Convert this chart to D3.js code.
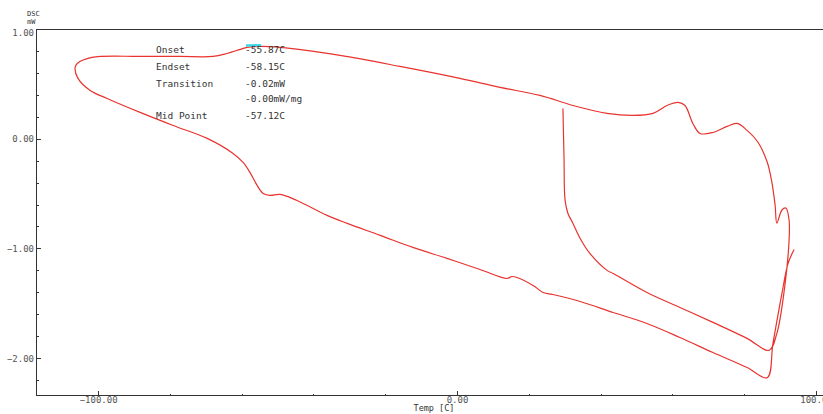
<!DOCTYPE html>
<head>
  <meta charset="utf-8">
  <script src="https://d3js.org/d3.v7.min.js"></script>
  <style>
    body { margin:0; background:#fff; }
    text { font-family: "DejaVu Sans Mono", "Liberation Mono", monospace; fill:#333; }
    .axis path, .axis line { fill:none; stroke:#333; shape-rendering:crispEdges; }
    .axis text { font-size:9px; fill:#555; }
    .ann { font-size:9.5px; }
  </style>
</head>
<body>
  <script>
    // DSC trace, temperature [C] and heat flow [mW], in drawing order
    var temps = [29.5, 29.8, 30.1, 30.9, 32.3, 34.3, 37.0, 41.8, 43.5, 52.9, 62.1, 71.3, 80.8, 86.9,
                 89.1, 91.4, 92.5, 92.5, 91.6, 90.5, 89.1, 88.6, 87.7, 86.4, 83.8, 80.8, 78.0, 75.2,
                 71.3, 67.7, 65.7, 63.5, 61.6, 58.5, 54.6, 49.0, 41.8, 32.3, 23.1, 12.0, 0.8, -15.9,
                 -32.6, -49.3, -54.9, -58.5, -60.4, -64.1, -68.0, -77.2, -88.3, -101.7, -105.8, -106.4,
                 -105.6, -102.2, -97.5, -88.3, -79.1, -69.6, -62.4, -59.6, -57.7, -55.7, -54.0, -52.1,
                 -49.3, -44.6, -36.2, -30.6, -21.4, -12.3, -2.8, 6.4, 13.9, 15.3, 16.7, 21.2, 24.0,
                 26.7, 34.3, 43.5, 52.9, 62.1, 71.3, 80.8, 86.4, 88.0, 90.5, 92.2, 93.9];
    var heatFlow = [0.276, -0.170, -0.562, -0.681, -0.772, -0.909, -1.045, -1.200, -1.228, -1.401,
                    -1.538, -1.674, -1.820, -1.929, -1.774, -1.318, -0.926, -0.741, -0.632, -0.650,
                    -0.769, -0.604, -0.395, -0.212, -0.030, 0.076, 0.139, 0.112, 0.057, 0.048, 0.139,
                    0.303, 0.331, 0.303, 0.231, 0.212, 0.231, 0.303, 0.395, 0.468, 0.550, 0.659, 0.759,
                    0.832, 0.841, 0.832, 0.814, 0.777, 0.750, 0.750, 0.750, 0.741, 0.686, 0.650, 0.550,
                    0.440, 0.367, 0.240, 0.121, 0.003, -0.134, -0.216, -0.307, -0.426, -0.499, -0.517,
                    -0.508, -0.563, -0.699, -0.772, -0.881, -0.991, -1.091, -1.192, -1.274, -1.256,
                    -1.265, -1.338, -1.402, -1.420, -1.484, -1.584, -1.684, -1.812, -1.949, -2.086,
                    -2.178, -1.868, -1.412, -1.138, -1.010];

    // onset marker on the curve
    var markTemps = [-58.8, -54.6];
    var markFlow = [0.850, 0.852];

    var xTickValues = [-100, 0, 100];
    var yTickValues = [1, 0, -1, -2];

    var annLabels = ["Onset", "Endset", "Transition", "", "Mid Point"];
    var annValues = ["-55.87C", "-58.15C", "-0.02mW", "-0.00mW/mg", "-57.12C"];
    var annRows = [50, 67, 84, 99, 116];

    var margin = {top: 29, left: 36},
        width = 787,
        height = 366;

    var svg = d3.select("body").append("svg")
        .attr("width", 823)
        .attr("height", 414);

    var g = svg.append("g")
        .attr("transform", "translate(" + margin.left + "," + margin.top + ")");

    var x = d3.scaleLinear().domain([-117.3, 101.95]).range([0, width]);
    var y = d3.scaleLinear().domain([-2.336, 1]).range([height, 0]);

    // minor ticks
    g.append("g").attr("class", "axis")
        .call(d3.axisLeft(y).tickValues(y.ticks(15)).tickSize(-3).tickFormat("").tickSizeOuter(0));
    g.append("g").attr("class", "axis")
        .attr("transform", "translate(0," + height + ")")
        .call(d3.axisBottom(x).tickValues(x.ticks(10)).tickSize(-1.5).tickFormat("").tickSizeOuter(0));

    // major ticks and labels
    var ya = g.append("g").attr("class", "axis")
        .call(d3.axisLeft(y).tickValues(yTickValues).tickSize(-5)
            .tickFormat(d3.format(".2f")).tickSizeOuter(0));
    ya.selectAll("text").attr("x", -2)
        .attr("dy", function(d) { return d === 1 ? "0.7em" : "0.32em"; });
    var xa = g.append("g").attr("class", "axis")
        .attr("transform", "translate(0," + height + ")")
        .call(d3.axisBottom(x).tickValues(xTickValues).tickSize(-4)
            .tickFormat(d3.format(".2f")).tickSizeOuter(0));
    xa.selectAll("text").attr("y", 2).attr("dy", "0.71em");

    // top frame line
    g.append("line")
        .attr("x1", 0).attr("x2", width + 1)
        .attr("y1", 0).attr("y2", 0)
        .attr("stroke", "#333")
        .style("shape-rendering", "crispEdges");

    svg.append("text").attr("x", 27).attr("y", 16).style("font-size", "7px").text("DSC");
    svg.append("text").attr("x", 27).attr("y", 24).style("font-size", "7px").text("mW");
    svg.append("text").attr("x", 434).attr("y", 411).attr("text-anchor", "middle")
        .style("font-size", "8.5px").text("Temp [C]");

    var line = d3.line()
        .x(function(d, i) { return x(temps[i]); })
        .y(function(d, i) { return y(heatFlow[i]); })
        .curve(d3.curveCatmullRom.alpha(0.5));

    g.append("path")
        .datum(temps)
        .attr("d", line)
        .attr("fill", "none")
        .attr("stroke", "#e8332e")
        .attr("stroke-width", 1.2);

    var markLine = d3.line()
        .x(function(d, i) { return x(markTemps[i]); })
        .y(function(d, i) { return y(markFlow[i]); });
    g.append("path")
        .datum(markTemps)
        .attr("d", markLine)
        .attr("stroke", "#3fd8e8")
        .attr("stroke-width", 2.5);

    svg.selectAll(".annl")
        .data(annLabels)
        .enter().append("text")
        .attr("class", "ann annl")
        .attr("x", 156)
        .attr("y", function(d, i) { return annRows[i]; })
        .attr("dy", "0.35em")
        .text(function(d) { return d; });

    svg.selectAll(".annv")
        .data(annValues)
        .enter().append("text")
        .attr("class", "ann annv")
        .attr("x", 245)
        .attr("y", function(d, i) { return annRows[i]; })
        .attr("dy", "0.35em")
        .text(function(d) { return d; });
  </script>
</body>
